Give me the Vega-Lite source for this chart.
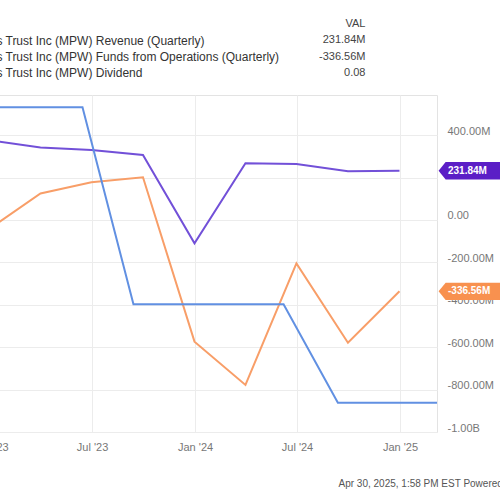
{
  "$schema": "https://vega.github.io/schema/vega-lite/v6.json",
  "description": "Medical Properties Trust: revenue, FFO and dividend (YCharts style, left side cropped)",
  "autosize": {"type": "none"},
  "padding": {"left": -20, "top": 95, "right": 63, "bottom": 68},
  "width": 457,
  "height": 337,
  "background": "white",
  "datasets": {
    "quarterly": [
      {"series": "Medical Properties Trust Inc (MPW) Revenue (Quarterly)", "date": "2022-12-31", "value": 375},
      {"series": "Medical Properties Trust Inc (MPW) Revenue (Quarterly)", "date": "2023-03-31", "value": 342},
      {"series": "Medical Properties Trust Inc (MPW) Revenue (Quarterly)", "date": "2023-06-30", "value": 330},
      {"series": "Medical Properties Trust Inc (MPW) Revenue (Quarterly)", "date": "2023-09-30", "value": 306},
      {"series": "Medical Properties Trust Inc (MPW) Revenue (Quarterly)", "date": "2023-12-31", "value": -110},
      {"series": "Medical Properties Trust Inc (MPW) Revenue (Quarterly)", "date": "2024-03-31", "value": 267},
      {"series": "Medical Properties Trust Inc (MPW) Revenue (Quarterly)", "date": "2024-06-30", "value": 264},
      {"series": "Medical Properties Trust Inc (MPW) Revenue (Quarterly)", "date": "2024-09-30", "value": 230},
      {"series": "Medical Properties Trust Inc (MPW) Revenue (Quarterly)", "date": "2024-12-31", "value": 231.84},
      {"series": "Medical Properties Trust Inc (MPW) Funds from Operations (Quarterly)", "date": "2022-12-31", "value": -40},
      {"series": "Medical Properties Trust Inc (MPW) Funds from Operations (Quarterly)", "date": "2023-03-31", "value": 125},
      {"series": "Medical Properties Trust Inc (MPW) Funds from Operations (Quarterly)", "date": "2023-06-30", "value": 178},
      {"series": "Medical Properties Trust Inc (MPW) Funds from Operations (Quarterly)", "date": "2023-09-30", "value": 201},
      {"series": "Medical Properties Trust Inc (MPW) Funds from Operations (Quarterly)", "date": "2023-12-31", "value": -574},
      {"series": "Medical Properties Trust Inc (MPW) Funds from Operations (Quarterly)", "date": "2024-03-31", "value": -778},
      {"series": "Medical Properties Trust Inc (MPW) Funds from Operations (Quarterly)", "date": "2024-06-30", "value": -205},
      {"series": "Medical Properties Trust Inc (MPW) Funds from Operations (Quarterly)", "date": "2024-09-30", "value": -579},
      {"series": "Medical Properties Trust Inc (MPW) Funds from Operations (Quarterly)", "date": "2024-12-31", "value": -336.56}
    ],
    "dividend": [
      {"series": "Medical Properties Trust Inc (MPW) Dividend", "date": "2022-12-07", "value": 0.29},
      {"series": "Medical Properties Trust Inc (MPW) Dividend", "date": "2023-03-15", "value": 0.29},
      {"series": "Medical Properties Trust Inc (MPW) Dividend", "date": "2023-06-14", "value": 0.29},
      {"series": "Medical Properties Trust Inc (MPW) Dividend", "date": "2023-09-13", "value": 0.15},
      {"series": "Medical Properties Trust Inc (MPW) Dividend", "date": "2023-12-06", "value": 0.15},
      {"series": "Medical Properties Trust Inc (MPW) Dividend", "date": "2024-03-13", "value": 0.15},
      {"series": "Medical Properties Trust Inc (MPW) Dividend", "date": "2024-06-07", "value": 0.15},
      {"series": "Medical Properties Trust Inc (MPW) Dividend", "date": "2024-09-12", "value": 0.08},
      {"series": "Medical Properties Trust Inc (MPW) Dividend", "date": "2024-12-12", "value": 0.08},
      {"series": "Medical Properties Trust Inc (MPW) Dividend", "date": "2025-03-13", "value": 0.08}
    ],
    "latest": [
      {"series": "Medical Properties Trust Inc (MPW) Revenue (Quarterly)", "value": 231.84, "label": "231.84M"},
      {"series": "Medical Properties Trust Inc (MPW) Funds from Operations (Quarterly)", "value": -336.56, "label": "-336.56M"}
    ]
  },
  "resolve": {"scale": {"y": "independent"}},
  "layer": [
    {
      "layer": [
        {
          "data": {"name": "quarterly"},
          "mark": {"type": "line", "clip": true, "strokeWidth": 2},
          "encoding": {
            "x": {
              "field": "date",
              "type": "temporal",
              "scale": {"domain": [{"year": 2022, "month": 12, "date": 13}, {"year": 2025, "month": 3, "date": 8}]},
              "axis": {
                "values": [
                  {"year": 2023, "month": 1, "date": 1},
                  {"year": 2023, "month": 7, "date": 1},
                  {"year": 2024, "month": 1, "date": 1},
                  {"year": 2024, "month": 7, "date": 1},
                  {"year": 2025, "month": 1, "date": 1}
                ],
                "format": "%b '%y",
                "labelFlush": false,
                "labelOverlap": false,
                "labelColor": "#777777",
                "labelFontSize": 11,
                "labelPadding": 9,
                "grid": true,
                "gridColor": "#ececec",
                "domain": false,
                "ticks": false,
                "title": "Apr 30, 2025, 1:58 PM EST  Powered by YCharts",
                "titleX": 358,
                "titleY": 51,
                "titleAlign": "left",
                "titleBaseline": "middle",
                "titleFontSize": 10,
                "titleFontWeight": "normal",
                "titleColor": "#555555"
              }
            },
            "y": {
              "field": "value",
              "type": "quantitative",
              "scale": {"domain": [-1000, 589], "nice": false, "zero": false},
              "axis": {
                "orient": "right",
                "values": [-1000, -800, -600, -400, -200, 0, 200, 400],
                "labelExpr": "datum.value == 0 ? '0.00' : (datum.value < 0 ? '-' : '') + (abs(datum.value) >= 1000 ? format(abs(datum.value) / 1000, '.2f') + 'B' : format(abs(datum.value), '.2f') + 'M')",
                "labelColor": "#777777",
                "labelFontSize": 11,
                "labelPadding": 10,
                "labelOffset": -4,
                "grid": true,
                "gridColor": "#ececec",
                "domain": false,
                "ticks": false,
                "title": ["VAL", "231.84M", "-336.56M", "0.08"],
                "titleAngle": 0,
                "titleX": -72,
                "titleY": -78,
                "titleAlign": "right",
                "titleBaseline": "top",
                "titleLineHeight": 16.5,
                "titleFontSize": 11,
                "titleFontWeight": "normal",
                "titleColor": "#444444"
              }
            },
            "color": {
              "field": "series",
              "type": "nominal",
              "scale": {
                "domain": [
                  "Medical Properties Trust Inc (MPW) Revenue (Quarterly)",
                  "Medical Properties Trust Inc (MPW) Funds from Operations (Quarterly)",
                  "Medical Properties Trust Inc (MPW) Dividend"
                ],
                "range": ["#7250d8", "#f89e68", "#6190e2"]
              },
              "legend": {
                "orient": "none",
                "direction": "vertical",
                "legendX": -93,
                "legendY": -60,
                "title": null,
                "padding": 0,
                "symbolType": "stroke",
                "symbolStrokeWidth": 2,
                "symbolSize": 100,
                "labelFontSize": 12,
                "labelColor": "#333333",
                "labelLimit": 600,
                "rowPadding": 4
              }
            }
          }
        },
        {
          "data": {"name": "latest"},
          "mark": {
            "type": "point",
            "shape": "M0.05,0L0.27,-0.27L2,-0.27L2,0.27L0.27,0.27Z",
            "filled": true,
            "opacity": 1,
            "size": 4096,
            "strokeWidth": 0
          },
          "encoding": {
            "x": {"datum": {"year": 2025, "month": 3, "date": 8}, "type": "temporal"},
            "y": {"field": "value", "type": "quantitative"},
            "fill": {
              "field": "series",
              "type": "nominal",
              "scale": {
                "domain": [
                  "Medical Properties Trust Inc (MPW) Revenue (Quarterly)",
                  "Medical Properties Trust Inc (MPW) Funds from Operations (Quarterly)"
                ],
                "range": ["#5b1ec6", "#f8914f"]
              },
              "legend": null
            }
          }
        },
        {
          "data": {"name": "latest"},
          "mark": {"type": "text", "align": "left", "dx": 11, "fontSize": 10, "fontWeight": "bold", "color": "white"},
          "encoding": {
            "x": {"datum": {"year": 2025, "month": 3, "date": 8}, "type": "temporal"},
            "y": {"field": "value", "type": "quantitative"},
            "text": {"field": "label"}
          }
        }
      ]
    },
    {
      "data": {"name": "dividend"},
      "mark": {"type": "line", "clip": true, "strokeWidth": 2},
      "encoding": {
        "x": {"field": "date", "type": "temporal"},
        "y": {
          "field": "value",
          "type": "quantitative",
          "scale": {"domain": [0.0592, 0.2987], "nice": false, "zero": false},
          "axis": null
        },
        "color": {"field": "series", "type": "nominal"}
      }
    }
  ],
  "config": {
    "font": "Liberation Sans",
    "view": {"stroke": "#e3e3e3", "strokeWidth": 1}
  }
}
